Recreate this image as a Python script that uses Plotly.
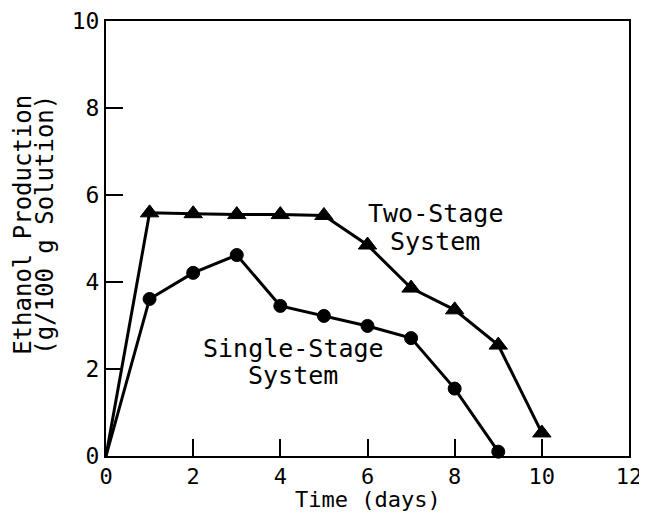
import plotly.graph_objects as go

days_two = [0, 1, 2, 3, 4, 5, 6, 7, 8, 9, 10]
ethanol_two = [0, 5.59, 5.57, 5.55, 5.55, 5.53, 4.85, 3.86, 3.36, 2.55, 0.53]
days_single = [0, 1, 2, 3, 4, 5, 6, 7, 8, 9]
ethanol_single = [0, 3.61, 4.21, 4.62, 3.45, 3.22, 2.99, 2.71, 1.55, 0.1]
x_ticks = [0, 2, 4, 6, 8, 10, 12]
y_ticks = [0, 2, 4, 6, 8, 10]

FONT = "DejaVu Sans Mono"

fig = go.Figure()
fig.add_trace(go.Scatter(
    x=days_two, y=ethanol_two, mode="lines+markers",
    line=dict(color="black", width=3),
    marker=dict(symbol="triangle-up", size=[0] + [16] * 10, color="black", opacity=1,
                line=dict(color="black", width=1)),
    showlegend=False, cliponaxis=False))
fig.add_trace(go.Scatter(
    x=days_single, y=ethanol_single, mode="lines+markers",
    line=dict(color="black", width=3),
    marker=dict(symbol="circle", size=[0] + [13] * 9, color="black", opacity=1,
                line=dict(color="black", width=1)),
    showlegend=False, cliponaxis=False))

label_font = dict(family=FONT, size=25, color="black")
fig.add_annotation(x=7.56, y=5.58, text="Two\u2011Stage", showarrow=False, font=label_font)
fig.add_annotation(x=7.56, y=4.94, text="System", showarrow=False, font=label_font)
fig.add_annotation(x=4.3, y=2.47, text="Single\u2011Stage", showarrow=False, font=label_font)
fig.add_annotation(x=4.3, y=1.84, text="System", showarrow=False, font=label_font)

# axis titles
fig.add_annotation(xref="paper", yref="paper", x=0.5, y=-0.101, text="Time (days)",
                   showarrow=False, xanchor="center", yanchor="middle",
                   font=dict(family=FONT, size=22, color="black"))
fig.add_annotation(xref="paper", yref="paper", x=-0.159, y=0.531, text="Ethanol Production",
                   showarrow=False, xanchor="center", yanchor="middle", textangle=-90,
                   font=dict(family=FONT, size=24, color="black"))
fig.add_annotation(xref="paper", yref="paper", x=-0.117, y=0.531, text="(g/100 g Solution)",
                   showarrow=False, xanchor="center", yanchor="middle", textangle=-90,
                   font=dict(family=FONT, size=24, color="black"))

fig.update_layout(
    width=647, height=513,
    margin=dict(l=98, r=26, t=13, b=65),
    paper_bgcolor="white", plot_bgcolor="white",
    font=dict(family=FONT, color="black"),
    xaxis=dict(range=[0, 12], tickvals=x_ticks, ticks="inside", ticklen=17, tickwidth=2,
               tickcolor="black", showline=True, linecolor="black", linewidth=2,
               mirror=True, showgrid=False, zeroline=False, automargin=False,
               tickfont=dict(size=22)),
    yaxis=dict(range=[0, 10], tickvals=y_ticks, ticks="inside", ticklen=17, tickwidth=2,
               tickcolor="black", showline=True, linecolor="black", linewidth=2,
               mirror=True, showgrid=False, zeroline=False, automargin=False,
               tickfont=dict(size=23)),
)

fig.write_html("out.html", post_script="document.body.style.overflow='hidden';")
